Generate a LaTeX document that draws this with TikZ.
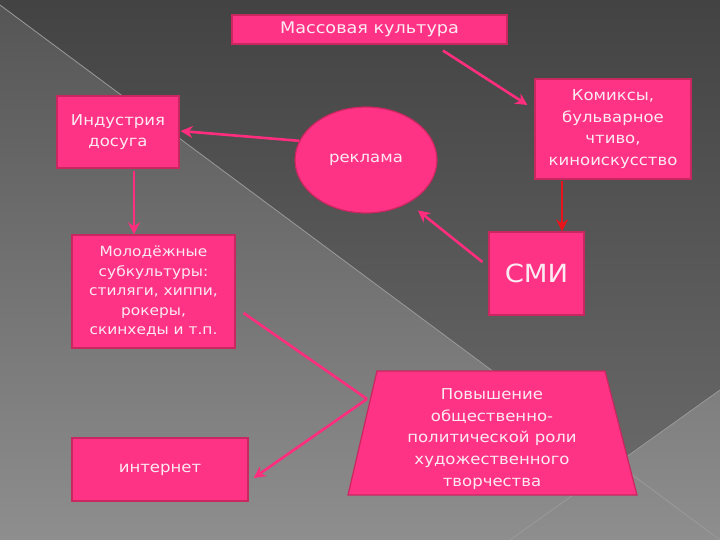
\documentclass[tikz,border=0pt]{standalone}
\usepackage{fontspec}
\setmainfont{DejaVu Sans}[FakeStretch=1.1]
\usetikzlibrary{arrows.meta,shapes.geometric,calc}
\definecolor{pinkfill}{HTML}{FF3385}
\definecolor{pinkedge}{HTML}{C8285F}
\definecolor{arrowpink}{HTML}{FF2D7D}
\definecolor{arrowred}{HTML}{E8141C}
\definecolor{txtcol}{HTML}{FCEAF2}
\definecolor{bgtop}{HTML}{434343}
\definecolor{bgbot}{HTML}{6E6E6E}
\definecolor{bgltop}{HTML}{555555}
\definecolor{bglbot}{HTML}{8E8E8E}
\definecolor{bgline}{HTML}{9A9A9A}
\tikzset{
  box/.style={draw=pinkedge, line width=1.2pt, fill=pinkfill, text=txtcol,
    align=center, inner sep=2pt, font=\fontsize{15}{21.5}\selectfont},
  conn/.style={draw=arrowpink, line width=2.6pt, -{Stealth[length=12pt,width=12pt]}},
  plainconn/.style={draw=arrowpink, line width=2.6pt},
  redconn/.style={draw=arrowred, line width=2.6pt, -{Stealth[length=12pt,width=12pt]}},
}
\begin{document}
\begin{tikzpicture}[x=1pt,y=-1pt]
\useasboundingbox (0,0) rectangle (720,540);
% background
\shade[top color=bgtop, bottom color=bgbot] (0,0) rectangle (720,540);
\begin{scope}
  \clip (0,5) -- (720,540) -- (0,540) -- cycle;
  \shade[top color=bgltop, bottom color=bglbot] (0,0) rectangle (720,540);
\end{scope}
\begin{scope}
  \clip (720,390) -- (510,540) -- (720,540) -- cycle;
  \shade[top color=bgltop, bottom color=bglbot] (0,0) rectangle (720,540);
\end{scope}
\draw[bgline, line width=0.8pt] (0,5) -- (720,540);
\draw[bgline, line width=0.8pt] (720,390) -- (510,540);

% nodes
\node[box, minimum width=275pt, minimum height=29pt, font=\fontsize{16}{20}\selectfont] (mass) at (369.5,29.5) {Массовая культура};
\node[box, minimum width=122pt, minimum height=72pt] (ind) at (118,132) {Индустрия\\досуга};
\node[box, ellipse, minimum width=142pt, minimum height=106pt] (rek) at (366,160) {реклама};
\node[box, minimum width=156pt, minimum height=100pt] (kom) at (613,129) {Комиксы,\\бульварное\\чтиво,\\киноискусство};
\node[box, minimum width=95pt, minimum height=83pt, font=\fontsize{25}{28}\selectfont] (smi) at (536.5,273.5) {СМИ};
\node[box, minimum width=163pt, minimum height=113pt, font=\fontsize{14}{19.5}\selectfont] (mol) at (153.5,291.5) {Молодёжные\\субкультуры:\\стиляги, хиппи,\\рокеры,\\скинхеды и т.п.};
\node[box, minimum width=176pt, minimum height=63pt] (inet) at (160,469.5) {интернет};
\fill[pinkfill, draw=pinkedge, line width=1.2pt] (377,371) -- (605,371) -- (637,495) -- (348,495) -- cycle;
\node[text=txtcol, align=center, inner sep=0pt, font=\fontsize{15}{21.8}\selectfont] (trap) at (492,439) {Повышение\\общественно-\\политической роли\\художественного\\творчества};
\coordinate (junc) at (367,399);

% connectors
\draw[conn] ([xshift=73.5pt,yshift=-6pt]mass.south) -- ([xshift=-7pt,yshift=24pt]kom.west);
\draw[conn] (rek.164) -- ([xshift=1pt,yshift=1pt]ind.east);
\draw[conn] ([xshift=16pt,yshift=-2pt]ind.south) -- ([xshift=-19.5pt]mol.north);
\draw[redconn] ([xshift=-51pt,yshift=-1pt]kom.south) -- ([xshift=25.5pt]smi.north);
\draw[conn] ([xshift=-6pt,yshift=11.5pt]smi.west) -- ([xshift=8pt,yshift=-8pt]rek.-44);
\draw[plainconn] ([xshift=8pt,yshift=-21.5pt]mol.east) -- (junc);
\draw[conn] (junc) -- ([xshift=5pt,yshift=-8.5pt]inet.east);
\end{tikzpicture}
\end{document}
